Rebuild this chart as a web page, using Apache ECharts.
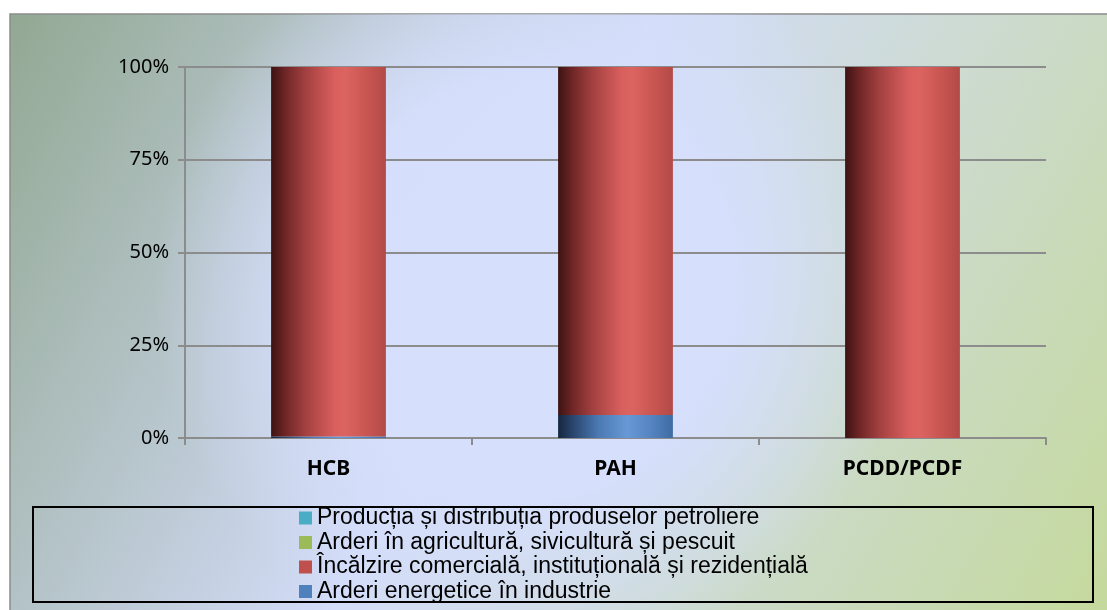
<!DOCTYPE html>
<html><head><meta charset="utf-8">
<script src="https://cdn.jsdelivr.net/npm/echarts@6/dist/echarts.min.js"></script>
<style>html,body{margin:0;padding:0;background:#fff}#c{width:1107px;height:610px}</style>
</head><body><div id="c"></div>
<script>
const categories = ['HCB', 'PAH', 'PCDD/PCDF'];
const seriesNames = [
  'Producția și distribuția produselor petroliere',
  'Arderi în agricultură, sivicultură și pescuit',
  'Încălzire comercială, instituțională și rezidențială',
  'Arderi energetice în industrie'
];
const productie = [0, 0, 0];
const agricultura = [0, 0, 0];
const incalzire = [99.6, 93.8, 100];
const energetice = [0.4, 6.2, 0];
const yTicks = [0, 25, 50, 75, 100];

const chart = echarts.init(document.getElementById('c'));
const lg = (stops) => ({type:'linear', x:0, y:0, x2:1, y2:0, colorStops: stops.map(s => ({offset:s[0], color:s[1]}))});
const redGrad = lg([[0,'#3c1313'],[0.12,'#6e2525'],[0.3,'#a34040'],[0.55,'#d85f5d'],[0.65,'#db6461'],[0.85,'#c75450'],[1,'#b24a47']]);
const blueGrad = lg([[0,'#162640'],[0.15,'#2c4a74'],[0.35,'#4b79b2'],[0.6,'#6799d6'],[0.8,'#5585c2'],[1,'#3f6ba3']]);
const cyanGrad = lg([[0,'#1c4a56'],[0.6,'#5cc0dc'],[1,'#3f99b0']]);
const greenGrad = lg([[0,'#3f4f22'],[0.6,'#acd065'],[1,'#88a64c']]);
const legendColors = ['#4bacc6', '#9bbb59', '#c0504d', '#4f81bd'];

chart.setOption({
  animation: false,
  graphic: [
    {type:'rect', z:-10, shape:{x:10, y:14, width:1110, height:610},
     style:{fill:{type:'linear', x:0, y:0, x2:1, y2:1, colorStops:[
       {offset:0, color:'#92a892'},{offset:0.45, color:'#d3dcf8'},{offset:1, color:'#c4d99a'}]},
       stroke:'#8c8c8c', lineWidth:1.5}},
    {type:'rect', z:-9, shape:{x:10, y:14, width:1110, height:610},
     style:{fill:{type:'radial', x:0.47, y:0.45, r:0.62, colorStops:[
       {offset:0, color:'rgba(214,223,252,1)'},{offset:0.55, color:'rgba(214,223,252,0.95)'},{offset:1, color:'rgba(214,223,252,0)'}]}}},
    {type:'rect', z:-8, shape:{x:33, y:507, width:1060, height:95},
     style:{fill:'none', stroke:'#000', lineWidth:2}}
  ],
  grid: {left:185, right:61, top:67, bottom:172, containLabel:false},
  legend: {
    orient:'vertical', left:299, top:506, itemWidth:13, itemHeight:13, itemGap:0.5,
    padding:0, selectedMode:false,
    textStyle:{fontFamily:'Liberation Sans', fontSize:23, lineHeight:24, color:'#000'},
    data: seriesNames.map((n,i) => ({name:n, icon:'rect', itemStyle:{color:legendColors[i]}}))
  },
  xAxis: {
    type:'category', data:categories,
    axisLine:{lineStyle:{color:'#8c8c8c', width:2}},
    axisTick:{show:true, length:7, lineStyle:{color:'#8c8c8c', width:2}},
    axisLabel:{fontFamily:'Noto Sans', fontWeight:'bold', fontSize:21, color:'#000', margin:21}
  },
  yAxis: {
    type:'value', min:0, max:100, interval:25,
    axisLine:{show:true, lineStyle:{color:'#8c8c8c', width:2}},
    axisTick:{show:true, length:7, lineStyle:{color:'#8c8c8c', width:2}},
    splitLine:{lineStyle:{color:'#8c8c8c', width:2}},
    axisLabel:{fontFamily:'Noto Sans', fontSize:20, color:'#000', margin:16,
      formatter: v => yTicks.includes(v) ? v + '%' : ''}
  },
  series: [
    {name:seriesNames[3], type:'bar', stack:'s', data:energetice, barWidth:'40%', itemStyle:{color:blueGrad}},
    {name:seriesNames[2], type:'bar', stack:'s', data:incalzire, barWidth:'40%', itemStyle:{color:redGrad}},
    {name:seriesNames[1], type:'bar', stack:'s', data:agricultura, barWidth:'40%', itemStyle:{color:greenGrad}},
    {name:seriesNames[0], type:'bar', stack:'s', data:productie, barWidth:'40%', itemStyle:{color:cyanGrad}}
  ]
});
</script></body></html>
